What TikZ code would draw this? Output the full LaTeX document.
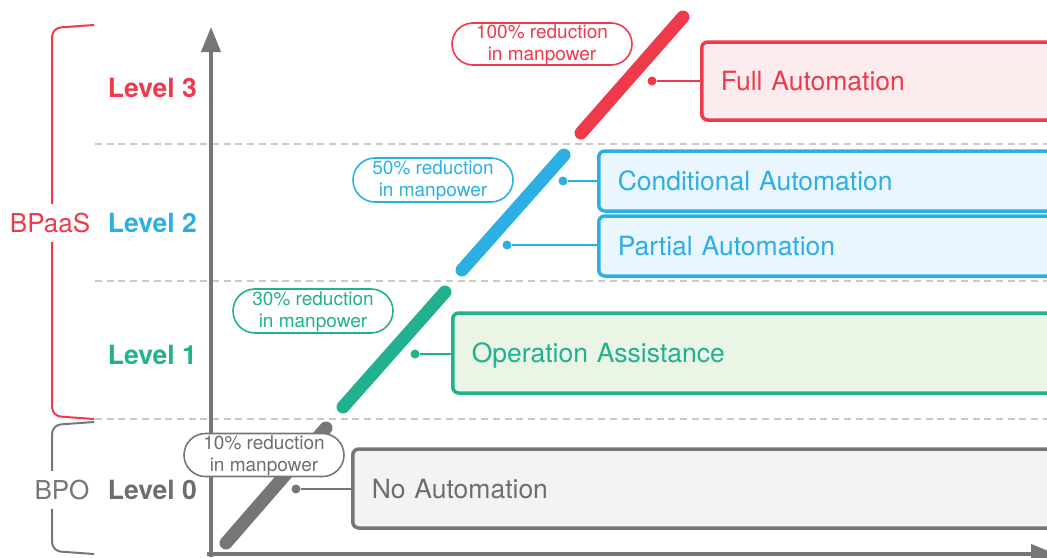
\documentclass[tikz,border=0pt]{standalone}
\usepackage{fontspec}
\setmainfont{TeX Gyre Heros}
\usetikzlibrary{arrows.meta,shapes.misc}

\definecolor{cred}{RGB}{238,58,74}
\definecolor{cblue}{RGB}{44,176,228}
\definecolor{cgreen}{RGB}{33,177,143}
\definecolor{cgray}{RGB}{118,118,118}
\definecolor{cgraytext}{RGB}{110,110,110}
\definecolor{fred}{RGB}{253,236,238}
\definecolor{fblue}{RGB}{234,246,253}
\definecolor{fgreen}{RGB}{234,245,230}
\definecolor{fgray}{RGB}{243,243,243}
\definecolor{cgrid}{RGB}{202,202,202}

% taller first line so the two-line tag text sits centred in its outline
\newcommand{\tagstrut}{\rule{0pt}{15.5pt}}

\begin{document}
\begin{tikzpicture}[x=1pt,y=-1pt,
  lvl/.style={anchor=east, inner sep=0pt, font=\fontsize{26.5}{30}\selectfont\bfseries},
  grp/.style={fill=white, inner xsep=2pt, inner ysep=9pt, font=\fontsize{26}{30}\selectfont},
  gridline/.style={draw=cgrid, line width=1.8pt, dash pattern=on 7pt off 4.7pt},
  axisline/.style={draw=cgray, line width=4pt, -{Triangle[length=25pt,width=19pt]}},
  bracket/.style={line width=2pt, rounded corners=9pt},
  bar/.style={line width=13pt, line cap=round},
  autobox/.style={draw, line width=3.5pt, rounded corners=6pt, anchor=west,
    inner xsep=19pt, inner ysep=0pt, align=left, text width=800pt,
    text height=19pt, text depth=0pt,
    font=\fontsize{26.5}{30}\selectfont},
  pill/.style={rounded rectangle, draw, fill=white, line width=1.6pt,
    minimum width=160pt, minimum height=44pt, inner sep=0pt, align=center,
    font=\fontsize{19}{22}\selectfont},
  dot/.style={circle, inner sep=0pt, minimum size=9pt},
  link/.style={line width=2pt}
]
\useasboundingbox (0,0) rectangle (1047,557);
\clip (0,0) rectangle (1047,557);

% level separators
\draw[gridline] (95,144) -- (1047,144);
\draw[gridline] (95,281) -- (1047,281);
\draw[gridline] (95,419) -- (1047,419);

% group brackets
\draw[bracket, draw=cred] (94,25) -- (52,28) -- (52,416) -- (94,419);
\draw[bracket, draw=cgray] (94,422) -- (52,425) -- (52,551) -- (94,554);
\node[grp, text=cred] (bpaas) at (50,223) {BPaaS};
\node[grp, text=cgray] (bpo) at (62,490) {BPO};

% level labels
\node[lvl, text=cred] (l3) at (197,88) {Level 3};
\node[lvl, text=cblue] (l2) at (197,223) {Level 2};
\node[lvl, text=cgreen] (l1) at (197,355) {Level 1};
\node[lvl, text=cgraytext] (l0) at (197,490) {Level 0};

% axes
\draw[axisline] (211,557) -- (211,27);
\draw[axisline] (207,554) -- (1056,554);

% progression bars
\draw[bar, draw=cgray] (226,543) -- (326,428);
\draw[bar, draw=cgreen] (343,407) -- (445,292);
\draw[bar, draw=cblue] (462,270) -- (564,155);
\draw[bar, draw=cred] (581,133) -- (683,17);

% manpower reduction tags
\node[pill, draw=cred, text=cred, minimum width=180pt, minimum height=42pt] (p3) at (542,44) {\tagstrut100\% reduction\\in manpower};
\node[pill, draw=cblue, text=cblue] (p2) at (433,180) {\tagstrut50\% reduction\\in manpower};
\node[pill, draw=cgreen, text=cgreen] (p1) at (313,311) {\tagstrut30\% reduction\\in manpower};
\node[pill, draw=cgray, text=cgraytext, minimum height=43pt] (p0) at (264,455) {\tagstrut10\% reduction\\in manpower};

% automation stages
\node[autobox, draw=cred, fill=fred, text=cred, minimum height=78pt] (full) at (700,81) {Full Automation};
\node[autobox, draw=cblue, fill=fblue, text=cblue, minimum height=60pt] (cond) at (597,181) {Conditional Automation};
\node[autobox, draw=cblue, fill=fblue, text=cblue, minimum height=60pt] (part) at (597,246) {Partial Automation};
\node[autobox, draw=cgreen, fill=fgreen, text=cgreen, minimum height=80pt] (oper) at (451,353) {Operation Assistance};
\node[autobox, draw=cgray, fill=fgray, text=cgraytext, minimum height=79pt] (none) at (351,488.5) {No Automation};

% markers on the bars and their links
\node[dot, fill=cred] (dfull) at (652,81) {};
\node[dot, fill=cblue] (dcond) at (563,181) {};
\node[dot, fill=cblue] (dpart) at (507,245) {};
\node[dot, fill=cgreen] (doper) at (415,354) {};
\node[dot, fill=cgray] (dnone) at (296,489) {};
\draw[link, draw=cred] (dfull) -- (full.west |- dfull);
\draw[link, draw=cblue] (dcond) -- (cond.west |- dcond);
\draw[link, draw=cblue] (dpart) -- (part.west |- dpart);
\draw[link, draw=cgreen] (doper) -- (oper.west |- doper);
\draw[link, draw=cgray] (dnone) -- (none.west |- dnone);
\end{tikzpicture}
\end{document}
